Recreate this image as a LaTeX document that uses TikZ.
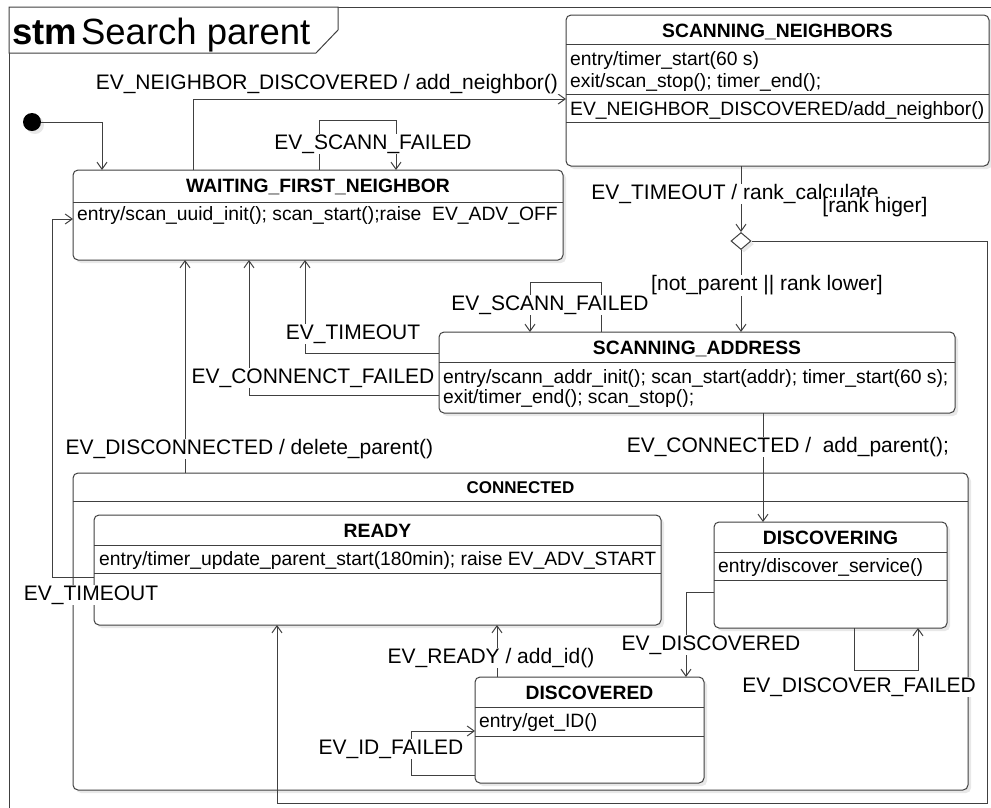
\documentclass[tikz,border=0pt]{standalone}
\usepackage{fontspec}
\setmainfont{Liberation Sans}
\usetikzlibrary{arrows.meta,calc,shadows,shapes.geometric}
\newcommand\trf{\fontsize{21}{25}\selectfont}
\newcommand\bdf{\fontsize{19.3}{23}\selectfont}
\newcommand\hdf{\bfseries\fontsize{19.3}{23}\selectfont}
\newcommand\cnf{\bfseries\fontsize{17}{20}\selectfont}
\newcommand\stmf{\fontsize{36.5}{42}\selectfont}
\begin{document}
\begin{tikzpicture}[x=1pt,y=-1pt,
  lc/.style={draw=black!75,line width=1pt},
  shd/.style={drop shadow={shadow xshift=3pt,shadow yshift=-3pt,fill=black!9,opacity=1}},
  state/.style={lc,fill=white,rounded corners=5pt,anchor=north west,inner sep=0pt,outer sep=0pt,shd},
  tr/.style={lc,-{Straight Barb[length=7pt,width=10pt]}},
  tl/.style={font=\trf,fill=white,inner sep=0.6pt,anchor=base},
  ttl/.style={font=\hdf,inner sep=0pt,anchor=base},
  bod/.style={font=\bdf,inner sep=0pt,anchor=base west}]
\useasboundingbox (0,0) rectangle (991,807);
% frame
\draw[lc] (9,810) -- (9,7) -- (995,7);
\draw[lc,fill=white] (9,7) -- (338,7) -- (338,30) -- (316,53) -- (9,53) -- cycle;
\node[font=\stmf,inner sep=0pt,anchor=base west] (stm) at (12,44.5) {\textbf{stm}\hspace{4pt}Search parent};

% states
\node[state,minimum width=895pt,minimum height=317pt] (connected) at (73,473) {};
\draw[lc] ($(connected.north west)+(0,28)$) -- ($(connected.north east)+(0,28)$);
\node[font=\cnf,inner sep=0pt,anchor=base] (connectedT) at ($(connected.north)+(0,20)$) {CONNECTED};

\node[state,minimum width=490pt,minimum height=90pt] (waiting) at (73,170) {};
\draw[lc] ($(waiting.north west)+(0,32)$) -- ($(waiting.north east)+(0,32)$);
\node[ttl] (waitingT) at ($(waiting.north)+(0,22)$) {WAITING\_FIRST\_NEIGHBOR};
\node[bod] (waitingB) at ($(waiting.north west)+(4,50)$) {entry/scan\_uuid\_init(); scan\_start();raise\ \ EV\_ADV\_OFF};

\node[state,minimum width=423pt,minimum height=151pt] (scanN) at (566,15) {};
\draw[lc] ($(scanN.north west)+(0,29)$) -- ($(scanN.north east)+(0,29)$);
\draw[lc] ($(scanN.north west)+(0,79)$) -- ($(scanN.north east)+(0,79)$);
\draw[lc] ($(scanN.north west)+(0,107)$) -- ($(scanN.north east)+(0,107)$);
\node[ttl] (scanNT) at ($(scanN.north)+(0,22)$) {SCANNING\_NEIGHBORS};
\node[bod] (scanNB1) at ($(scanN.north west)+(4,50)$) {entry/timer\_start(60 s)};
\node[bod] (scanNB2) at ($(scanN.north west)+(4,72)$) {exit/scan\_stop(); timer\_end();};
\node[bod] (scanNB3) at ($(scanN.north west)+(4,100)$) {EV\_NEIGHBOR\_DISCOVERED/add\_neighbor()};

\node[diamond,lc,fill=white,minimum width=20pt,minimum height=17pt,inner sep=0pt,shd] (dia) at (741,241) {};

\node[state,minimum width=516pt,minimum height=81pt] (sa) at (439,332) {};
\draw[lc] ($(sa.north west)+(0,30)$) -- ($(sa.north east)+(0,30)$);
\node[ttl] (saT) at ($(sa.north)+(0,22)$) {SCANNING\_ADDRESS};
\node[bod] (saB1) at ($(sa.north west)+(4,51)$) {entry/scann\_addr\_init(); scan\_start(addr); timer\_start(60 s);};
\node[bod] (saB2) at ($(sa.north west)+(4,71)$) {exit/timer\_end(); scan\_stop();};

\node[state,minimum width=567pt,minimum height=110pt] (ready) at (94,515) {};
\draw[lc] ($(ready.north west)+(0,30)$) -- ($(ready.north east)+(0,30)$);
\draw[lc] ($(ready.north west)+(0,58)$) -- ($(ready.north east)+(0,58)$);
\node[ttl] (readyT) at ($(ready.north)+(0,22)$) {READY};
\node[bod] (readyB) at ($(ready.north west)+(5,50)$) {entry/timer\_update\_parent\_start(180min); raise EV\_ADV\_START};

\node[state,minimum width=233pt,minimum height=106pt] (discovering) at (714,522) {};
\draw[lc] ($(discovering.north west)+(0,30)$) -- ($(discovering.north east)+(0,30)$);
\draw[lc] ($(discovering.north west)+(0,58)$) -- ($(discovering.north east)+(0,58)$);
\node[ttl] (discoveringT) at ($(discovering.north)+(0,22)$) {DISCOVERING};
\node[bod] (discoveringB) at ($(discovering.north west)+(4,50)$) {entry/discover\_service()};

\node[state,minimum width=229pt,minimum height=106pt] (discovered) at (475,677) {};
\draw[lc] ($(discovered.north west)+(0,30)$) -- ($(discovered.north east)+(0,30)$);
\draw[lc] ($(discovered.north west)+(0,59)$) -- ($(discovered.north east)+(0,59)$);
\node[ttl] (discoveredT) at ($(discovered.north)+(0,22)$) {DISCOVERED};
\node[bod] (discoveredB) at ($(discovered.north west)+(4,50)$) {entry/get\_ID()};

\node[circle,fill=black,minimum size=18pt,inner sep=0pt,shd] (init) at (32,122) {};

% connectors
\coordinate (cinit) at (102,122);
\draw[tr] (init) -- (cinit) -- (cinit |- waiting.north);
\coordinate (cwn) at (193,99);
\draw[tr] (cwn |- waiting.north) -- (cwn) -- (cwn -| scanN.west);
\coordinate (cwl1) at (319,120); \coordinate (cwl2) at (396,120);
\draw[tr] (cwl1 |- waiting.north) -- (cwl1) -- (cwl2) -- (cwl2 |- waiting.north);
\draw[tr] (dia.north |- scanN.south) -- (dia.north);
\draw[tr] (dia.south) -- (dia.south |- sa.north);
\coordinate (cr1) at (987,241); \coordinate (cr2) at (987,803); \coordinate (cr3) at (277,803);
\draw[tr] (dia.east) -- (cr1) -- (cr2) -- (cr3) -- (cr3 |- ready.south);
\coordinate (cs1) at (601,282); \coordinate (cs2) at (530,282);
\draw[tr] (cs1 |- sa.north) -- (cs1) -- (cs2) -- (cs2 |- sa.north);
\coordinate (ct) at (305,353);
\draw[tr] (ct -| sa.west) -- (ct) -- (ct |- waiting.south);
\coordinate (cf) at (249,395);
\draw[tr] (cf -| sa.west) -- (cf) -- (cf |- waiting.south);
\coordinate (cd) at (185,447);
\draw[tr] (cd |- connected.north) -- (cd |- waiting.south);
\coordinate (cc) at (763,445);
\draw[tr] (cc |- sa.south) -- (cc |- discovering.north);
\coordinate (ce1) at (52,577); \coordinate (ce2) at (52,219);
\draw[tr] (ce1 -| ready.west) -- (ce1) -- (ce2) -- (ce2 -| waiting.west);
\coordinate (cg) at (686,592);
\draw[tr] (cg -| discovering.west) -- (cg) -- (cg |- discovered.north);
\coordinate (ch1) at (854,670); \coordinate (ch2) at (918,670);
\draw[tr] (ch1 |- discovering.south) -- (ch1) -- (ch2) -- (ch2 |- discovering.south);
\coordinate (ci) at (497,656);
\draw[tr] (ci |- discovered.north) -- (ci |- ready.south);
\coordinate (cj1) at (411,775); \coordinate (cj2) at (411,731);
\draw[tr] (cj1 -| discovered.west) -- (cj1) -- (cj2) -- (cj2 -| discovered.west);

% labels
\node[tl,anchor=base west] (lab1) at (95,89) {EV\_NEIGHBOR\_DISCOVERED / add\_neighbor()};
\node[tl] (lab2) at (373,149.5) {EV\_SCANN\_FAILED};
\node[tl] (lab3) at (735,199.5) {EV\_TIMEOUT / rank\_calculate};
\node[tl] (lab4) at (875,212.5) {[rank higer]};
\node[tl] (lab5) at (767,290.5) {[not\_parent || rank lower]};
\node[tl] (lab6) at (550,310.5) {EV\_SCANN\_FAILED};
\node[tl] (lab7) at (353,339.5) {EV\_TIMEOUT};
\node[tl] (lab8) at (313,383.5) {EV\_CONNENCT\_FAILED};
\node[tl,anchor=base east] (lab9) at (434,454.5) {EV\_DISCONNECTED / delete\_parent()};
\node[tl,anchor=base west] (lab10) at (626,452.5) {EV\_CONNECTED /\ \ add\_parent();};
\node[tl] (lab11) at (91,600.5) {EV\_TIMEOUT};
\node[tl] (lab12) at (711,650.5) {EV\_DISCOVERED};
\node[tl] (lab13) at (491,663.5) {EV\_READY / add\_id()};
\node[tl] (lab14) at (859,692.5) {EV\_DISCOVER\_FAILED};
\node[tl] (lab15) at (391,754.5) {EV\_ID\_FAILED};
\end{tikzpicture}
\end{document}
